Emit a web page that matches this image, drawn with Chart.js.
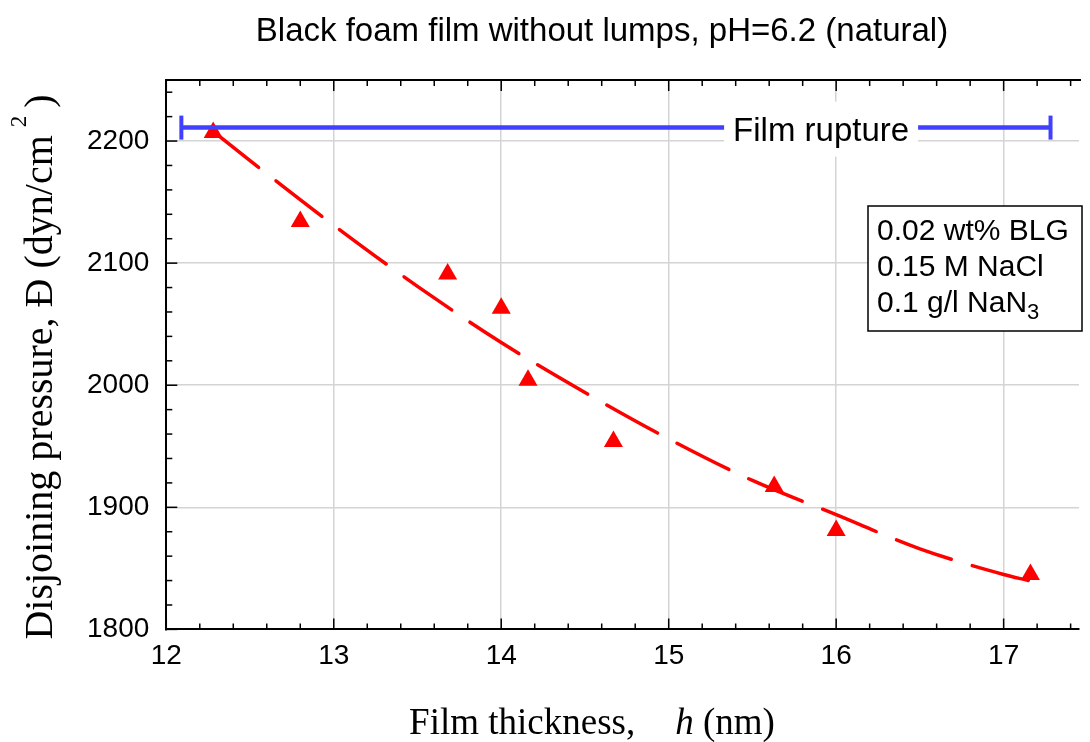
<!DOCTYPE html>
<html>
<head>
<meta charset="utf-8">
<script src="https://cdn.jsdelivr.net/npm/chart.js@4.4.1/dist/chart.umd.min.js"></script>
<style>
  html, body { margin: 0; padding: 0; background: #fff; overflow: hidden; }
  #wrap { width: 1090px; height: 742px; }
</style>
</head>
<body>
<div id="wrap"><canvas id="chart" width="1090" height="742"></canvas></div>
<script>
// measured points (film thickness nm, disjoining pressure dyn/cm2)
const thickness = [12.28, 12.80, 13.68, 14.00, 14.16, 14.67, 15.63, 16.00, 17.16];
const pressure  = [2207, 2134, 2091, 2063, 2004, 1954, 1917, 1881, 1845];

// dashed fit curve
const fitX = [12.28, 12.5, 13.0, 13.5, 14.0, 14.5, 15.0, 15.5, 16.0, 16.5, 17.0, 17.15];
const fitY = [2208, 2184, 2131, 2081, 2035, 1994, 1956, 1922, 1894, 1866, 1845, 1840];

// film rupture level
const ruptureX = [12.09, 17.28];
const ruptureY = [2211, 2211];

const xTicks = [12, 13, 14, 15, 16, 17];
const yTicks = [1800, 1900, 2000, 2100, 2200];

const titleText = 'Black foam film without lumps, pH=6.2 (natural)';
const legendLines = ['0.02 wt% BLG', '0.15 M NaCl', '0.1 g/l NaN'];

const sans = '"Liberation Sans", Arial, sans-serif';
const serif = '"Liberation Serif", "Times New Roman", serif';

const toPts = (xs, ys) => xs.map((x, i) => ({ x: x, y: ys[i] }));

const decorations = {
  id: 'decorations',
  afterDatasetsDraw(chart) {
    const { ctx, chartArea, scales: { x, y } } = chart;
    ctx.save();

    // title
    ctx.fillStyle = '#000';
    ctx.textAlign = 'center';
    ctx.textBaseline = 'alphabetic';
    ctx.font = '33px ' + sans;
    ctx.fillText(titleText, 602, 41);

    // rupture end caps
    ctx.strokeStyle = '#4040ff';
    ctx.lineWidth = 4;
    ruptureX.forEach((v, i) => {
      const px = x.getPixelForValue(v);
      const py = y.getPixelForValue(ruptureY[i]);
      ctx.beginPath();
      ctx.moveTo(px, py - 12);
      ctx.lineTo(px, py + 12);
      ctx.stroke();
    });

    // "Film rupture" label with white box
    const ly = y.getPixelForValue(ruptureY[0]);
    const lx = x.getPixelForValue(15.91);
    ctx.font = '33px ' + sans;
    const tw = ctx.measureText('Film rupture').width;
    ctx.fillStyle = '#fff';
    ctx.fillRect(lx - tw / 2 - 9, ly - 26, tw + 18, 55);
    ctx.fillStyle = '#000';
    ctx.fillText('Film rupture', lx, ly + 13);

    // info box
    const bx = 868, by = 206, bw = 214, bh = 125;
    ctx.fillStyle = '#fff';
    ctx.fillRect(bx, by, bw, bh);
    ctx.strokeStyle = '#000';
    ctx.lineWidth = 1.5;
    ctx.strokeRect(bx, by, bw, bh);
    ctx.fillStyle = '#000';
    ctx.textAlign = 'left';
    ctx.font = '30px ' + sans;
    legendLines.forEach((t, i) => {
      ctx.fillText(t, bx + 9, by + 34 + i * 36);
    });
    const nw = ctx.measureText(legendLines[2]).width;
    ctx.font = '22px ' + sans;
    ctx.fillText('3', bx + 9 + nw, by + 34 + 2 * 36 + 7);

    // frame: top line + inward ticks
    ctx.strokeStyle = '#000';
    ctx.lineWidth = 2;
    ctx.beginPath();
    ctx.moveTo(chartArea.left, chartArea.top);
    ctx.lineTo(chartArea.right + 2, chartArea.top);
    ctx.stroke();
    ctx.lineWidth = 1.5;
    for (let i = 0; i <= 27; i++) {
      const v = 12 + i * 0.2;
      const px = x.getPixelForValue(v);
      if (px > chartArea.right) break;
      const len = i % 5 === 0 ? 11 : 6;
      ctx.beginPath();
      ctx.moveTo(px, chartArea.bottom);
      ctx.lineTo(px, chartArea.bottom - len);
      ctx.moveTo(px, chartArea.top);
      ctx.lineTo(px, chartArea.top + len);
      ctx.stroke();
    }
    for (let i = 0; i <= 22; i++) {
      const v = 1800 + i * 20;
      const py = y.getPixelForValue(v);
      const len = i % 5 === 0 ? 11 : 6;
      ctx.beginPath();
      ctx.moveTo(chartArea.left, py);
      ctx.lineTo(chartArea.left + len, py);
      ctx.stroke();
    }

    // x axis title
    ctx.fillStyle = '#000';
    ctx.textAlign = 'left';
    ctx.font = '37px ' + serif;
    const p1 = 'Film thickness,';
    const p3 = ' (nm)';
    const w1 = ctx.measureText(p1).width;
    const w3 = ctx.measureText(p3).width;
    ctx.font = 'italic 37px ' + serif;
    const w2 = ctx.measureText('h').width;
    const gap = 40;
    let sx = 592 - (w1 + gap + w2 + w3) / 2;
    const sy = 734;
    ctx.font = '37px ' + serif;
    ctx.fillText(p1, sx, sy);
    ctx.font = 'italic 37px ' + serif;
    ctx.fillText('h', sx + w1 + gap, sy);
    ctx.font = '37px ' + serif;
    ctx.fillText(p3, sx + w1 + gap + w2, sy);

    // y axis title
    ctx.translate(52, 367);
    ctx.rotate(-Math.PI / 2);
    const q1 = 'Disjoining pressure, Đ (dyn/cm';
    const q3 = ')';
    ctx.font = '40px ' + serif;
    const v1 = ctx.measureText(q1).width;
    const v3 = ctx.measureText(q3).width;
    ctx.font = '23px ' + serif;
    const v2 = ctx.measureText('2').width;
    const g1 = 8, g2 = 8;
    let tx = -(v1 + g1 + v2 + g2 + v3) / 2;
    ctx.font = '40px ' + serif;
    ctx.fillText(q1, tx, 0);
    ctx.font = '23px ' + serif;
    ctx.fillText('2', tx + v1 + g1, -26);
    ctx.font = '40px ' + serif;
    ctx.fillText(q3, tx + v1 + g1 + v2 + g2, 0);

    ctx.restore();
  }
};

new Chart(document.getElementById('chart'), {
  type: 'scatter',
  data: {
    datasets: [
      {
        label: 'Measured',
        data: toPts(thickness, pressure),
        pointStyle: 'triangle',
        pointRadius: 11,
        backgroundColor: '#ff0000',
        borderColor: '#ff0000',
        borderWidth: 0,
        order: 3
      },
      {
        label: 'Fit',
        data: toPts(fitX, fitY),
        showLine: true,
        borderColor: '#ff0000',
        borderWidth: 3.5,
        borderDash: [58, 22],
        borderCapStyle: 'round',
        pointRadius: 0,
        tension: 0.4,
        cubicInterpolationMode: 'monotone',
        order: 2
      },
      {
        label: 'Film rupture',
        data: toPts(ruptureX, ruptureY),
        showLine: true,
        borderColor: '#4040ff',
        borderWidth: 4.5,
        pointRadius: 0,
        order: 1
      }
    ]
  },
  options: {
    responsive: false,
    animation: false,
    events: [],
    layout: {
      padding: { left: 70, right: 0, top: 80, bottom: 59 }
    },
    plugins: {
      legend: { display: false },
      tooltip: { enabled: false },
      title: { display: false }
    },
    scales: {
      x: {
        type: 'linear',
        min: 12,
        max: 17.45,
        afterBuildTicks: (axis) => { axis.ticks = xTicks.map(v => ({ value: v })); },
        ticks: {
          color: '#000',
          padding: 10,
          font: { family: sans, size: 28 },
          callback: (v) => String(v)
        },
        grid: {
          drawTicks: false,
          color: (c) => (c.tick && c.tick.value === 12 ? 'rgba(0,0,0,0)' : '#d4d4d4'),
          lineWidth: 1.5
        },
        border: { color: '#000', width: 2 }
      },
      y: {
        type: 'linear',
        min: 1800,
        max: 2250,
        afterBuildTicks: (axis) => { axis.ticks = yTicks.map(v => ({ value: v })); },
        ticks: {
          color: '#000',
          padding: 17,
          font: { family: sans, size: 28 },
          callback: (v) => String(v)
        },
        grid: {
          drawTicks: false,
          color: (c) => (c.tick && c.tick.value === 1800 ? 'rgba(0,0,0,0)' : '#d4d4d4'),
          lineWidth: 1.5
        },
        border: { color: '#000', width: 2 }
      }
    }
  },
  plugins: [decorations]
});
</script>
</body>
</html>
